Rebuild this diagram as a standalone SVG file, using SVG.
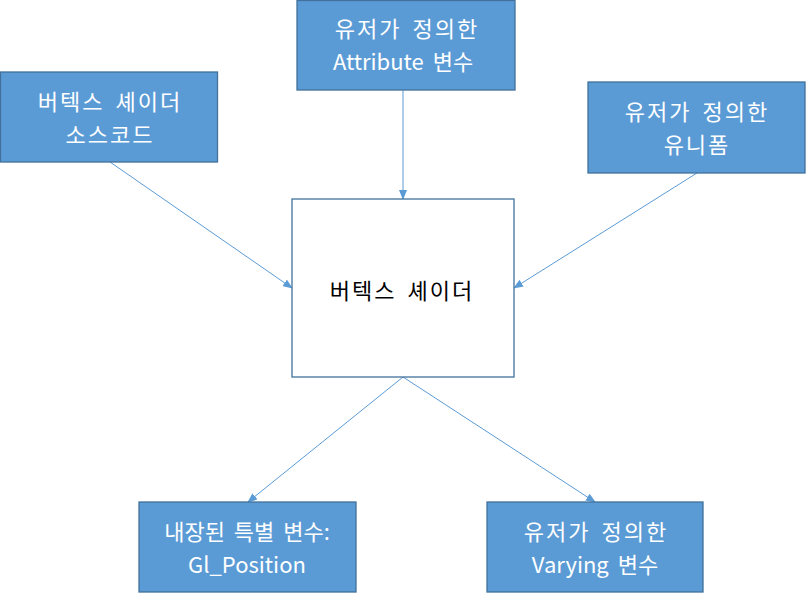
<svg xmlns="http://www.w3.org/2000/svg" width="806" height="594" viewBox="0 0 806 594">
<style>
.box{fill:#5B9BD5;stroke:#41719C;stroke-width:1.3}
.center{fill:#FFFFFF;stroke:#41719C;stroke-width:1.3}
.t{font-family:"Noto Sans CJK KR","Noto Sans",sans-serif;font-size:22px;text-anchor:middle;dominant-baseline:central;word-spacing:4px}
.h{letter-spacing:2px}
.w{fill:#FFFFFF}
.k{fill:#000000}
.c{stroke:#5B9BD5;stroke-width:1;fill:none;marker-end:url(#ah)}
</style>
<defs>
<marker id="ah" markerWidth="10" markerHeight="8" refX="9" refY="4" orient="auto" markerUnits="userSpaceOnUse">
<path d="M0,0 L10,4 L0,8 Z" fill="#5B9BD5"/>
</marker>
</defs>
<rect width="806" height="594" fill="#FFFFFF"/>
<g id="connectors">
<line class="c" x1="110" y1="162" x2="292" y2="288"/>
<line class="c" x1="403" y1="90" x2="403" y2="199"/>
<line class="c" x1="697" y1="173" x2="514" y2="288"/>
<line class="c" x1="403" y1="377" x2="248" y2="502"/>
<line class="c" x1="403" y1="377" x2="595" y2="502"/>
</g>
<g id="vertex-source">
<rect class="box" x="0.5" y="72" width="217" height="90"/>
<text class="t w h"><tspan x="110" y="100">버텍스 셰이더</tspan><tspan x="110" y="132.5">소스코드</tspan></text>
</g>
<g id="attribute">
<rect class="box" x="297" y="0.5" width="218" height="89.5"/>
<text class="t w"><tspan class="h" x="407" y="27">유저가 정의한</tspan><tspan x="403" y="59.5">Attribute 변수</tspan></text>
</g>
<g id="uniform">
<rect class="box" x="588" y="82" width="217" height="91"/>
<text class="t w h"><tspan x="697" y="110">유저가 정의한</tspan><tspan x="697" y="142.5">유니폼</tspan></text>
</g>
<g id="vertex-shader">
<rect class="center" x="292" y="199" width="222" height="178"/>
<text class="t k h" x="402" y="289">버텍스 셰이더</text>
</g>
<g id="builtin">
<rect class="box" x="139" y="502" width="217" height="90"/>
<text class="t w"><tspan x="247" y="530">내장된 특별 변수:</tspan><tspan x="247" y="562.5">Gl_Position</tspan></text>
</g>
<g id="varying">
<rect class="box" x="487" y="502" width="216" height="90"/>
<text class="t w"><tspan class="h" x="596" y="530">유저가 정의한</tspan><tspan x="595" y="562.5">Varying 변수</tspan></text>
</g>
</svg>
